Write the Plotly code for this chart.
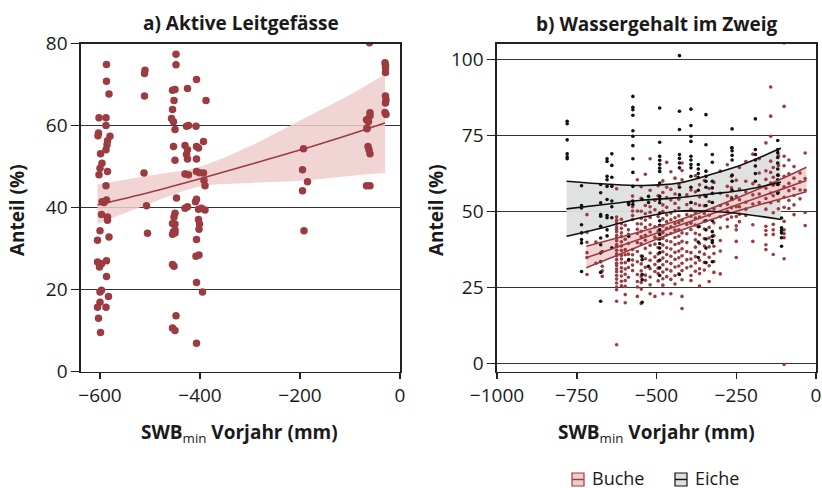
import plotly.graph_objects as go

# ---------------- Panel a: Aktive Leitgefässe ----------------
a_x = [-587, -587, -582, -602, -588, -588, -603, -604, -580, -585, -586, -588, -599, -596, -600, -602,
       -585, -588, -596, -587, -592, -597, -585, -585, -600, -582, -605, -605, -597, -587, -601, -587,
       -600, -597, -583, -600, -605, -588, -603, -599,
       -510, -511, -511, -512, -507, -505,
       -448, -448, -455, -450, -452, -455, -457, -453, -450, -453, -450, -447, -450, -452, -455, -450,
       -453, -450, -455, -450, -455, -452, -448, -455, -450,
       -425, -407, -427, -423, -408, -430, -425, -427, -425, -407, -403, -407, -393, -388, -430, -423,
       -407, -401, -393, -392, -390, -430, -425, -409, -407, -403, -397, -390, -403, -401, -402, -407,
       -408, -402, -407, -395, -407,
       -193, -195, -185, -195, -192,
       -61, -60, -60, -67, -66, -66, -64, -62, -60, -60, -67, -63,
       -30, -29, -29, -29, -29, -28, -29, -30, -28]
a_y = [74.9, 70.8, 67.7, 61.9, 61.9, 60.0, 58.2, 57.5, 57.4, 56.3, 55.3, 54.1, 53.1, 50.8, 49.6, 48.0,
       48.8, 45.3, 41.4, 41.8, 41.2, 38.3, 37.7, 36.9, 34.3, 32.8, 32.0, 26.7, 26.3, 27.0, 25.5, 23.2,
       19.4, 19.8, 18.3, 16.9, 15.7, 15.7, 13.0, 9.5,
       73.5, 72.7, 67.2, 48.4, 40.4, 33.7,
       77.4, 74.8, 68.6, 68.8, 66.1, 63.9, 61.7, 60.9, 59.0, 54.9, 51.5, 42.3, 38.6, 37.7, 36.1, 36.0,
       34.1, 34.5, 33.5, 33.8, 26.1, 25.7, 13.6, 10.6, 10.0,
       69.0, 71.2, 59.8, 60.0, 59.8, 55.1, 54.1, 52.9, 51.8, 54.9, 54.5, 51.8, 56.1, 66.1, 48.2, 48.0,
       48.8, 48.5, 48.4, 46.6, 45.3, 39.8, 40.2, 41.4, 42.0, 39.6, 39.8, 39.4, 37.1, 36.0, 34.7, 32.2,
       28.1, 28.4, 21.7, 19.4, 6.9,
       54.3, 49.2, 46.3, 44.1, 34.3,
       80.2, 63.1, 62.4, 61.4, 59.4, 59.2, 54.9, 54.1, 53.1, 45.3, 45.3, 61.0,
       75.3, 74.7, 74.0, 72.9, 67.2, 66.3, 65.5, 63.2, 62.7]

a_fit_x = [-605, -500, -400, -300, -200, -100, -30]
a_fit_y = [40.6, 43.7, 47.0, 50.5, 54.0, 57.8, 60.6]
a_lo = [36.0, 41.0, 45.1, 46.0, 46.5, 47.7, 48.4]
a_hi = [45.7, 47.8, 50.0, 55.0, 61.2, 67.5, 72.5]

# ---------------- Panel b: Wassergehalt im Zweig ----------------
# (x of site, list of observed values)
buche_cols = [
    (-718, [49, 43.2, 39.9, 36.5, 34.9, 29.3]),
    (-690, [40, 33]),
    (-670, [36.9, 32, 30.5, 28.7]),
    (-625, [57.5, 48.2, 47.1, 46.3, 45.0, 44.2, 43.4, 42.1, 41.3, 40.4, 39.2, 38.5, 37.3, 36.1, 35.4,
            34.2, 33.0, 32.3, 31.1, 30.2, 29.0, 27.8, 26.5, 25.2, 24.3, 20.5, 6.2]),
    (-610, [47.5, 46.0, 44.5, 43.0, 41.8, 40.1, 38.7, 37.2, 35.6, 34.4, 33.1, 31.5, 30.3, 28.8, 27.1, 25.6]),
    (-598, [45.5, 40.9, 37.5, 35.8, 33.2, 31.1, 29.4, 27.3, 25.4, 22.7, 20.0]),
    (-588, [52.9, 44, 42.5, 39.5, 36, 33.9, 31.6, 28.4]),
    (-575, [55.1, 53.5, 51.6, 50.2, 48.7, 47.4, 37.5, 35.8, 34.1, 32.4, 30.6]),
    (-560, [60.5, 50.2, 46, 44.2, 42.8, 39.8, 36.9, 33.5, 29.3, 27, 25.2, 22.1]),
    (-548, [58.2, 54.4, 50.1, 47.8, 45.9, 43.5, 41.7, 39.4, 35.4, 32.8, 30.5, 28.6, 26.7, 24.5, 19.8]),
    (-535, [62.3, 52.0, 49.3, 47.2, 44.8, 42.2, 40.6, 37.9, 34.5, 31.7, 29.1, 27.4]),
    (-520, [67.4, 57.0, 51.6, 49.8, 48.1, 45.7, 43.3, 38.9, 36.4, 34.0, 31.2, 28.5, 25.9, 23.0]),
    (-505, [53.7, 50.6, 45.0, 41.6, 39.3, 35.1, 32.6, 30.3, 22.1]),
    (-495, [58.5, 55.2, 48.4, 43.6, 41.0, 38.2, 36.1, 33.7, 31.4, 29.6, 27.2]),
    (-480, [60.1, 56.3, 52.2, 50.0, 47.6, 45.3, 43.1, 41.2, 39.0, 36.8, 34.7, 32.5, 30.1, 27.9, 25.8, 23.0]),
    (-468, [66.2, 58.0, 54.6, 51.4, 48.9, 46.7, 44.5, 42.3, 40.4, 38.1, 35.9, 33.6, 31.0, 28.6]),
    (-455, [63.1, 57.3, 53.8, 49.5, 47.3, 45.0, 42.8, 40.1, 37.7, 35.3, 32.9, 30.5, 27.7, 23.0]),
    (-442, [61.0, 55.8, 52.7, 50.3, 48.0, 46.1, 43.9, 41.5, 39.2, 36.6, 34.3, 31.8, 29.0, 26.2]),
    (-430, [59.0, 54.1, 51.2, 48.6, 46.4, 44.0, 41.9, 39.6, 37.0, 34.8, 32.1, 29.5]),
    (-420, [66.0, 63.5, 60.5, 47.1, 43.0, 40.2, 37.8, 35.5, 33.0, 30.6, 27.6, 22.1, 18.1]),
    (-405, [55.5, 52.3, 49.0, 45.8, 42.7, 39.8, 36.9, 34.2, 31.5]),
    (-392, [57.1, 53.0, 50.8, 48.5, 46.2, 44.1, 36.5, 34.4, 32.0, 29.0, 27.3]),
    (-378, [61.8, 56.5, 52.6, 49.7, 47.9, 45.6, 42.9, 40.7, 38.3, 35.2, 33.1, 30.4]),
    (-365, [58.8, 54.9, 52.1, 48.2, 45.1, 42.4, 39.5, 36.7, 34.0, 31.2, 29.6, 25.5]),
    (-350, [60.2, 55.4, 51.9, 49.4, 46.8, 44.3, 41.1, 38.7, 36.0, 33.3, 30.8]),
    (-335, [57.6, 53.3, 48.8, 44.8, 41.3, 38.4, 35.0, 32.2, 27.0]),
    (-320, [59.6, 50.9, 46.3, 42.1, 38.6, 36.2, 33.6, 30.0]),
    (-300, [63.3, 56.0, 52.0, 48.3, 44.6, 40.5, 37.0, 29.5]),
    (-278, [65.4, 58.3, 55.2, 52.4, 50.1, 47.5, 45.0]),
    (-265, [71.0, 61.6, 57.8, 54.6, 51.3, 48.2]),
    (-250, [60.3, 55.0, 51.6, 48.4, 45.3, 44.0, 40.2, 34.9]),
    (-240, [64.5, 57.4, 53.9, 51.6, 49.1, 46.7]),
    (-220, [66.5, 60.0, 56.5, 53.1, 50.8, 48.7]),
    (-198, [68.9, 59.2, 55.5, 52.5, 45.7, 40.2]),
    (-178, [67.4, 62.7, 58.6, 55.8, 53.0]),
    (-157, [72.6, 63.4, 60.6, 57.7, 54.3, 50.8, 45.2, 43.8, 42.4, 39.1, 37.5]),
    (-142, [91.0, 81.4, 74.8, 66.6, 62.9, 59.4, 56.1, 52.9]),
    (-134, [64.5, 61.3, 58.7, 55.2, 49.6, 45.8, 44.0, 42.5, 35.9]),
    (-118, [68.4, 65.2, 62.0, 59.0, 56.4, 53.5, 50.9]),
    (-100, [105.5, 84.6, 68.2, 65.1, 61.6, 58.2, 54.7, 51.4, 46.8, 44.0, 42.7, 41.4, 34.5, -0.3]),
    (-85, [67.0, 62.4, 59.3, 56.9, 53.7, 51.0]),
    (-69, [64.8, 61.0, 57.6, 55.3, 52.2, 49.0]),
    (-50, [62.7, 59.8, 57.1, 54.2]),
    (-34, [69.3, 60.9, 57.0, 49.7, 45.4]),
]
eiche_cols = [
    (-780, [79.7, 78.9, 73.6, 69.0, 68.0, 67.4]),
    (-735, [58.5, 52.0, 51.2, 45.7, 43.0, 40.8, 39.7, 30.3]),
    (-675, [58.9, 56.2, 52.9, 49.0, 48.5, 45.2, 41.3, 39.1, 36.4, 33.5, 30.0, 20.5]),
    (-655, [67.4, 66.5, 61.6, 60.5, 58.3, 54.0, 48.7, 48.0, 44.0, 42.0]),
    (-640, [69.0, 65.2, 61.3, 58.3, 53.5, 51.6, 48.0, 38.1]),
    (-587, [52.9, 52.3, 41.9, 34.2]),
    (-574, [87.9, 84.3, 83.5, 81.7, 76.6, 74.8, 71.7, 67.4, 62.9, 58.3, 53.4, 52.3]),
    (-545, [54.0, 35.3, 34.2, 29.3, 27.6, 20.2]),
    (-525, [55.0, 53.0, 32.0]),
    (-490, [84.1, 72.8, 68.2, 66.9, 65.6, 64.3, 63.2, 59.4, 55.0, 54.0, 52.9, 49.5, 47.0, 45.5, 44.0,
            42.5, 41.0, 39.5, 38.0, 36.5, 34.0, 31.5, 29.0]),
    (-428, [101.3, 83.0, 77.0, 68.8, 67.5, 66.0, 64.4, 58.0, 55.5, 29.3]),
    (-392, [83.7, 78.3, 74.8, 73.1, 68.2, 67.0, 65.5, 64.4, 61.6, 58.0, 53.0]),
    (-369, [65.5, 64.0, 62.5, 61.2, 57.0, 45.0, 40.0, 34.9]),
    (-345, [81.9, 72.0, 63.3, 61.6, 60.0, 58.0, 55.0, 52.0, 47.0, 44.0, 41.0, 38.0, 33.2]),
    (-325, [68.8, 66.2, 60.0, 57.8, 56.0, 53.0, 47.0, 43.4, 41.9, 40.5, 39.8, 33.5]),
    (-263, [77.2, 71.0, 70.0, 68.5, 67.0, 62.0, 60.0, 57.0, 54.0]),
    (-190, [80.5, 70.4, 68.8, 67.0, 65.0, 62.5, 60.0]),
    (-120, [73.4, 70.4, 69.4, 67.8, 66.0, 64.0, 62.0, 60.5, 58.9, 56.0]),
    (-108, [47.9, 44.7, 43.8, 43.0, 41.4, 38.6]),
]

e_fit_x = [-782, -650, -540, -430, -330, -230, -110]
e_fit = [50.9, 52.5, 53.8, 54.6, 55.8, 57.0, 59.7]
e_lo = [41.9, 45.2, 48.2, 50.2, 50.1, 49.2, 47.4]
e_hi = [60.0, 59.0, 58.6, 59.4, 62.2, 65.5, 70.9]

b_fit_x = [-720, -600, -480, -360, -240, -120, -30]
b_fit = [34.8, 39.2, 43.6, 48.0, 52.5, 56.9, 60.2]
b_lo = [31.5, 36.6, 41.7, 46.2, 50.4, 53.9, 56.5]
b_hi = [38.6, 42.0, 45.5, 49.8, 54.8, 60.2, 64.6]

legend_labels = ["Buche", "Eiche"]

RED = "#9c3b40"
PINK = "rgba(238,205,205,0.85)"
GRAY = "rgba(222,224,223,0.95)"
FONT = "Open Sans"


def flatten(cols):
    xs, ys = [], []
    for x, vals in cols:
        for v in vals:
            xs.append(x)
            ys.append(v)
    return xs, ys


bx, by = flatten(buche_cols)
ex, ey = flatten(eiche_cols)

fig = go.Figure()

# ---- panel a ----
fig.add_trace(go.Scatter(x=a_fit_x, y=a_lo, mode="lines", line=dict(width=0, shape="spline"),
                         xaxis="x", yaxis="y", hoverinfo="skip"))
fig.add_trace(go.Scatter(x=a_fit_x, y=a_hi, mode="lines", line=dict(width=0, shape="spline"),
                         fill="tonexty", fillcolor=PINK, xaxis="x", yaxis="y", hoverinfo="skip"))
fig.add_trace(go.Scatter(x=a_x, y=a_y, mode="markers", marker=dict(size=7.5, color=RED),
                         xaxis="x", yaxis="y"))
fig.add_trace(go.Scatter(x=a_fit_x, y=a_fit_y, mode="lines", line=dict(color=RED, width=1.6, shape="spline"),
                         xaxis="x", yaxis="y"))

# ---- panel b bands ----
fig.add_trace(go.Scatter(x=e_fit_x, y=e_lo, mode="lines", line=dict(width=0, shape="spline"),
                         xaxis="x2", yaxis="y2", hoverinfo="skip"))
fig.add_trace(go.Scatter(x=e_fit_x, y=e_hi, mode="lines", line=dict(width=0, shape="spline"),
                         fill="tonexty", fillcolor=GRAY, xaxis="x2", yaxis="y2", hoverinfo="skip"))
fig.add_trace(go.Scatter(x=b_fit_x, y=b_lo, mode="lines", line=dict(width=0, shape="spline"),
                         xaxis="x2", yaxis="y2", hoverinfo="skip"))
fig.add_trace(go.Scatter(x=b_fit_x, y=b_hi, mode="lines", line=dict(width=0, shape="spline"),
                         fill="tonexty", fillcolor=PINK, xaxis="x2", yaxis="y2", hoverinfo="skip"))
# points
fig.add_trace(go.Scatter(x=bx, y=by, mode="markers", marker=dict(size=3.6, color=RED),
                         xaxis="x2", yaxis="y2", name="Buche"))
fig.add_trace(go.Scatter(x=ex, y=ey, mode="markers", marker=dict(size=3.6, color="#111111"),
                         xaxis="x2", yaxis="y2", name="Eiche"))
# lines
for yy in (b_lo, b_hi, b_fit):
    fig.add_trace(go.Scatter(x=b_fit_x, y=yy, mode="lines", line=dict(color=RED, width=1.6, shape="spline"),
                             xaxis="x2", yaxis="y2"))
for yy in (e_lo, e_hi, e_fit):
    fig.add_trace(go.Scatter(x=e_fit_x, y=yy, mode="lines", line=dict(color="#111111", width=1.6, shape="spline"),
                             xaxis="x2", yaxis="y2"))

W, H = 822, 488


def px(x):
    return x / W


def py(y):
    return 1 - y / H


ydom = [py(371.5), py(43.5)]
axis_common = dict(showline=True, linecolor="#222222", linewidth=1.6, mirror=True, automargin=False,
                   ticks="outside", tickcolor="#222222", tickwidth=1.5,
                   tickfont=dict(family=FONT, size=19, color="#1a1a1a"), zeroline=False)

fig.update_layout(
    width=W, height=H, margin=dict(l=0, r=0, t=0, b=0, autoexpand=False),
    paper_bgcolor="white", plot_bgcolor="white", showlegend=False,
    font=dict(family=FONT, color="#1a1a1a"),
    xaxis=dict(domain=[px(81), px(400)], range=[-638, 0], tickvals=[-600, -400, -200, 0],
               ticktext=["\u2212600", "\u2212400", "\u2212200", "0"], ticklen=6, showgrid=False,
               anchor="y", **axis_common),
    yaxis=dict(domain=ydom, range=[0, 80], tickvals=[0, 20, 40, 60, 80], ticklen=8,
               showgrid=True, gridcolor="#333333", gridwidth=1, anchor="x", **axis_common),
    xaxis2=dict(domain=[px(497), px(816)], range=[-1000, 0], tickvals=[-1000, -750, -500, -250, 0],
                ticktext=["\u22121000", "\u2212750", "\u2212500", "\u2212250", "0"], ticklen=6,
                showgrid=False, anchor="y2", **axis_common),
    yaxis2=dict(domain=ydom, range=[-2.6, 105.3], tickvals=[0, 25, 50, 75, 100], ticklen=8,
                showgrid=True, gridcolor="#333333", gridwidth=1, anchor="x2", **axis_common),
)

ann = []
tfont = dict(family=FONT, size=19, color="#1a1a1a")
ann.append(dict(x=px(240.5), y=py(23), text="<b>a) Aktive Leitgefässe</b>", showarrow=False,
                xref="paper", yref="paper", xanchor="center", yanchor="middle", font=tfont))
ann.append(dict(x=px(656.5), y=py(24), text="<b>b) Wassergehalt im Zweig</b>", showarrow=False,
                xref="paper", yref="paper", xanchor="center", yanchor="middle", font=tfont))
for xc in (17, 436):
    ann.append(dict(x=px(xc), y=py(210), text="<b>Anteil (%)</b>", textangle=-90, showarrow=False,
                    xref="paper", yref="paper", xanchor="center", yanchor="middle", font=tfont))
for xc in (240, 656.5):
    ann.append(dict(x=px(xc), y=py(433), text="<b>SWB</b><sub>min</sub><b> Vorjahr (mm)</b>",
                    showarrow=False, xref="paper", yref="paper", xanchor="center", yanchor="middle",
                    font=tfont))

shapes = []
leg = [(572, "rgba(238,205,205,1)", RED, legend_labels[0]), (675, "rgba(222,224,223,1)", "#111111", legend_labels[1])]
for x0, fc, lc, lab in leg:
    shapes.append(dict(type="rect", xref="paper", yref="paper", x0=px(x0), x1=px(x0 + 12),
                       y0=py(486), y1=py(473), fillcolor=fc, line=dict(color=lc, width=1.2)))
    shapes.append(dict(type="line", xref="paper", yref="paper", x0=px(x0), x1=px(x0 + 12),
                       y0=py(479.5), y1=py(479.5), line=dict(color=lc, width=1.4)))
    ann.append(dict(x=px(x0 + 18), y=py(477.5), text=lab, showarrow=False, xref="paper", yref="paper",
                    xanchor="left", yanchor="middle", font=dict(family=FONT, size=18, color="#1a1a1a")))

fig.update_layout(annotations=ann, shapes=shapes)
fig.write_html("out.html",
               config={"displayModeBar": False, "staticPlot": True},
               post_script="document.body.style.margin='0';document.body.style.overflow='hidden';")
